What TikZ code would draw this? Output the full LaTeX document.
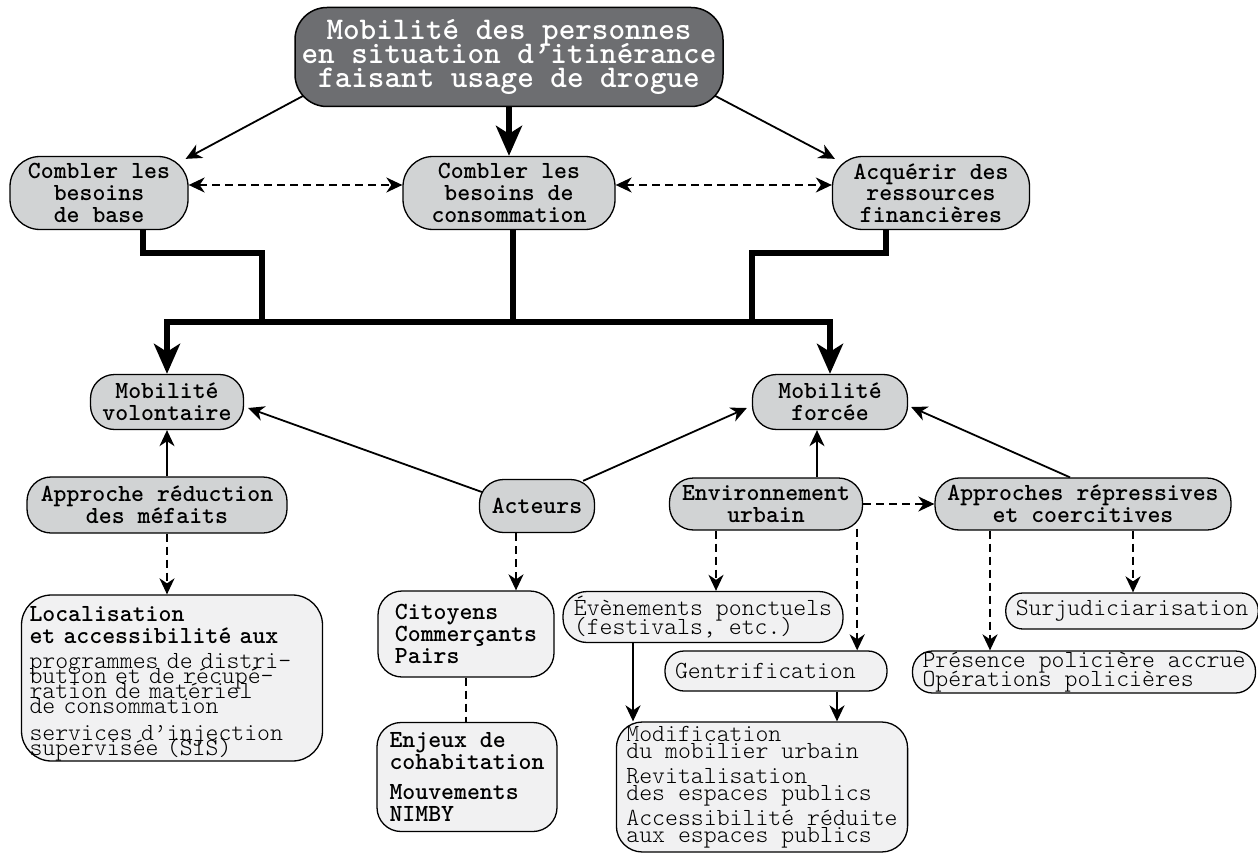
\documentclass[tikz,border=0pt]{standalone}
\usepackage{fontspec}
\usetikzlibrary{arrows.meta,backgrounds}

\definecolor{boxdark}{HTML}{6D6E71}
\definecolor{boxmid}{HTML}{D1D3D4}
\definecolor{boxlight}{HTML}{F1F1F2}

\newcommand{\tightlines}{\lineskiplimit=-100pt\lineskip=0pt}

\tikzset{
  headbox/.style={draw, line width=1.5pt, rounded corners=32pt, fill=boxdark, text=white, inner sep=0pt, align=center, font=\ttfamily\bfseries\fontsize{31.6}{24}\selectfont\tightlines},
  keybox/.style={draw, line width=1.3pt, rounded corners=24pt, fill=boxmid, inner sep=0pt, align=center, font=\ttfamily\bfseries\fontsize{24.6}{21.7}\selectfont\tightlines},
  leafbox/.style={draw, line width=1.3pt, rounded corners=24pt, fill=boxlight, inner ysep=0pt, inner xsep=10pt, align=left, font=\ttfamily\fontseries{l}\fontsize{24.6}{17.5}\selectfont\tightlines},
  boldleaf/.style={leafbox, font=\ttfamily\bfseries\fontsize{24.6}{21.7}\selectfont\tightlines},
  linkarrow/.style={line width=1.8pt, -{Stealth[length=16pt,width=15pt,inset=5pt]}},
  dashlink/.style={line width=1.8pt, dash pattern=on 8pt off 5pt},
  dasharrow/.style={dashlink, -{Stealth[length=16pt,width=15pt,inset=5pt]}},
  fatlink/.style={line width=6.5pt},
  fattip/.tip={Stealth[length=30pt,width=26pt,inset=8pt]},
}

\begin{document}
\begin{tikzpicture}[x=1pt,y=-1pt]
  \useasboundingbox (0,0) rectangle (1258,856);

  % head and the three needs
  \node[headbox, minimum width=428pt, minimum height=99pt] (mobilite) at (509,57)
    {Mobilité des personnes\\en situation d’itinérance\\faisant usage de drogue};
  \node[keybox, rounded corners=30pt, minimum width=178pt, minimum height=73pt] (basic) at (99,193)
    {Combler les\\besoins\\de base};
  \node[keybox, rounded corners=30pt, minimum width=212pt, minimum height=73pt] (conso) at (509,193)
    {Combler les\\besoins de\\consommation};
  \node[keybox, rounded corners=30pt, minimum width=197pt, minimum height=73pt] (funds) at (931,193)
    {Acquérir des\\ressources\\financières};

  % the two kinds of mobility
  \node[keybox, minimum width=153pt, minimum height=55pt] (volontaire) at (167,402) {Mobilité\\volontaire};
  \node[keybox, minimum width=155pt, minimum height=55pt] (forcee) at (830,402) {Mobilité\\forcée};

  \node[keybox, minimum width=260pt, minimum height=56pt] (harm) at (157,505) {Approche réduction\\des méfaits};
  \node[keybox, minimum width=115pt, minimum height=53pt] (acteurs) at (537,506) {Acteurs};
  \node[keybox, minimum width=193pt, minimum height=52pt] (urbain) at (766,504) {Environnement\\urbain};
  \node[keybox, minimum width=296pt, minimum height=52pt] (repress) at (1083,504) {Approches répressives\\et coercitives};

  % details
  \node[leafbox, rounded corners=30pt, text width=285pt, inner xsep=8pt, minimum height=166pt,
        font=\ttfamily\fontseries{l}\fontsize{24.6}{15}\selectfont\tightlines] (access) at (172,678)
    {\rule{0pt}{26pt}{\bfseries Localisation}\\[7pt]{\bfseries et accessibilité aux}\\[10pt]%
     programmes de distri-\\bution et de récupé-\\ration de matériel\\de consommation\\[12pt]%
     services d’injection\\supervisée (SIS)};
  \node[boldleaf, minimum width=176pt, minimum height=86pt] (citizens) at (466,634)
    {Citoyens\\Commerçants\\Pairs};
  \node[boldleaf, minimum width=180pt, minimum height=109pt] (enjeux) at (467,777)
    {Enjeux de\\cohabitation\\[9pt]Mouvements\\NIMBY};
  \node[leafbox, minimum width=280pt, minimum height=51pt] (events) at (703,617)
    {Évènements ponctuels\\[1pt](festivals, etc.)};
  \node[leafbox, rounded corners=19pt, text width=202pt, minimum height=40pt] (gentri) at (776,671)
    {Gentrification};
  \node[leafbox, rounded corners=26pt, minimum width=290pt, minimum height=130pt] (modif) at (762,787)
    {Modification\\du mobilier urbain\\[7pt]Revitalisation\\des espaces publics\\[7pt]%
     Accessibilité réduite\\aux espaces publics};
  \node[leafbox, rounded corners=17pt, minimum width=248pt, minimum height=36pt] (surjud) at (1132,611)
    {Surjudiciarisation};
  \node[leafbox, rounded corners=20pt, minimum width=343pt, minimum height=42pt] (police) at (1084,672)
    {Présence policière accrue\\[1pt]Opérations policières};

  \coordinate (barleft) at (167,322);
  \coordinate (barright) at (830,322);
  \coordinate (joinleft) at (262,322);
  \coordinate (joinright) at (752,322);

  \begin{pgfonlayer}{background}
    % from the head node
    \draw[linkarrow] ([shift={(25,-20)}]mobilite.south west) -- ([shift={(-3,3)}]basic.north east);
    \draw[linkarrow] ([shift={(-25,-20)}]mobilite.south east) -- ([shift={(3,3)}]funds.north west);
    \draw[fatlink, -fattip] (mobilite.south) -- (conso.north);
    \draw[dashlink, {Stealth[length=16pt,width=15pt,inset=5pt]}-{Stealth[length=16pt,width=15pt,inset=5pt]}]
      ([shift={(0,-8)}]basic.east) -- ([shift={(0,-8)}]conso.west);
    \draw[dashlink, {Stealth[length=16pt,width=15pt,inset=5pt]}-{Stealth[length=16pt,width=15pt,inset=5pt]}]
      ([shift={(0,-8)}]conso.east) -- ([shift={(0,-8)}]funds.west);

    % the thick bar
    \draw[fatlink, fattip-fattip] (volontaire.north) -- (barleft) -- (barright) -- (forcee.north);
    \draw[fatlink] ([shift={(44,0)}]basic.south) -- ++(0,23) -| (joinleft);
    \draw[fatlink] ([shift={(4,0)}]conso.south) -- ([shift={(4,0)}]conso.south |- barleft);
    \draw[fatlink] ([shift={(-45,0)}]funds.south) -- ++(0,23) -| (joinright);

    % into the mobility nodes
    \draw[linkarrow] (volontaire.south |- harm.north) -- (volontaire.south);
    \draw[linkarrow] ([shift={(3,-14)}]acteurs.west) -- ([shift={(4,6)}]volontaire.east);
    \draw[linkarrow] ([shift={(-12,2)}]acteurs.north east) -- ([shift={(-5,6)}]forcee.west);
    \draw[linkarrow] ([shift={(-13,0)}]forcee.south |- urbain.north) -- ([shift={(-13,0)}]forcee.south);
    \draw[linkarrow] ([shift={(-13,0)}]repress.north) -- ([shift={(3,5)}]forcee.east);
    \draw[dasharrow] (urbain.east) -- (repress.west);

    % down to the details
    \draw[dasharrow] ([shift={(10,0)}]harm.south) -- ([shift={(10,0)}]harm.south |- access.north);
    \draw[dasharrow] ([shift={(-21,0)}]acteurs.south) -- ([shift={(-21,0)}]acteurs.south |- citizens.north);
    \draw[dashlink] (citizens.south) -- (citizens.south |- enjeux.north);
    \draw[dasharrow] ([shift={(-50,0)}]urbain.south) -- ([shift={(-50,0)}]urbain.south |- events.north);
    \draw[dasharrow] ([shift={(-6,-2)}]urbain.south east) -- ([shift={(-6,0)}]urbain.south east |- gentri.north);
    \draw[linkarrow] ([shift={(-70,0)}]events.south) -- ([shift={(-70,0)}]events.south |- modif.north);
    \draw[linkarrow] ([shift={(61,0)}]gentri.south) -- ([shift={(61,0)}]gentri.south |- modif.north);
    \draw[dasharrow] ([shift={(-93,0)}]repress.south) -- ([shift={(-93,0)}]repress.south |- police.north);
    \draw[dasharrow] ([shift={(50,0)}]repress.south) -- ([shift={(50,0)}]repress.south |- surjud.north);
  \end{pgfonlayer}
\end{tikzpicture}
\end{document}
